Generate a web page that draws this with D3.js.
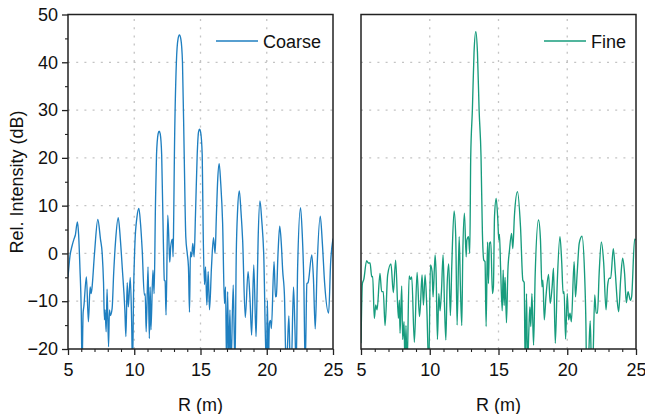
<!DOCTYPE html>
<html>
<head>
<meta charset="utf-8">
<script src="https://cdn.jsdelivr.net/npm/d3@7"></script>
<style>
  html, body { margin: 0; padding: 0; background: #fff; }
  svg { display: block; font-family: "Liberation Sans", Arial, sans-serif; }
</style>
</head>
<body>
<svg id="chart" width="645" height="414"></svg>
<script>
// ---------------- data ----------------
const xTicks = [5, 10, 15, 20, 25];
const yTicks = [-20, -10, 0, 10, 20, 30, 40, 50];
const seriesNames = ["Coarse", "Fine"];
const seriesColors = ["#1f7fc0", "#179c7d"];

// [R (m), relative intensity (dB)]
const coarseData = [
  [5.0,-5],[5.15,-0.5],[5.3,1.5],[5.45,3],[5.55,3.8],[5.71,6.6],[5.8,4],[5.9,-3],[6.0,-12],[6.06,-24],
  [6.14,-12.5],[6.2,-11],[6.39,-4.9],[6.54,-14.3],[6.67,-7],[6.74,-8.4],[6.8,-7.5],[7.0,0],[7.25,7.1],
  [7.45,3],[7.58,0],[7.68,-6],[7.75,-13.9],[7.8,-11.8],[7.88,-16.4],[7.95,-7.5],[8.06,-19.5],[8.13,-11.8],
  [8.2,-13],[8.33,-11.5],[8.45,-4],[8.6,3],[8.79,7.5],[8.95,3],[9.09,-2.8],[9.29,-11.8],[9.37,-17.4],
  [9.47,-6.1],[9.55,-11.2],[9.7,-5],[9.8,-13.9],[9.87,-24],[9.95,-8],[10.05,2],[10.2,7.5],[10.35,9.4],
  [10.48,6],[10.6,0.7],[10.76,-8.7],[10.83,-8.5],[10.9,-16.4],[11.04,-2.8],[11.14,-17.8],[11.2,-7],
  [11.26,-16],[11.41,-3.5],[11.5,-8.4],[11.6,10],[11.68,20.6],[11.8,25],[11.88,25.6],[11.96,25],
  [12.07,20.6],[12.2,2],[12.27,-5.6],[12.33,-5.8],[12.4,-12.9],[12.53,8],[12.63,1.4],[12.68,-1.8],
  [12.75,1.4],[12.88,3],[12.93,-0.7],[12.98,8],[13.03,20.6],[13.18,40],[13.3,44.8],[13.41,45.7],
  [13.52,44.8],[13.64,40],[13.77,20.6],[13.89,3.5],[14.0,0],[14.09,-2.8],[14.17,-12.3],[14.24,0.3],
  [14.33,-0.7],[14.42,2.1],[14.52,-0.7],[14.62,8],[14.75,20.6],[14.85,25.4],[14.93,26],[15.01,25.4],
  [15.13,20.6],[15.2,5],[15.3,-6.5],[15.38,-2.8],[15.48,-10.8],[15.58,-3.8],[15.68,-11.8],[15.83,-2.8],
  [15.98,3.3],[16.1,0],[16.2,8],[16.3,15.5],[16.41,18.8],[16.52,15],[16.67,6.3],[16.81,-10.5],[16.89,-7],
  [16.97,-24],[17.05,-8],[17.13,-24],[17.22,-11.8],[17.3,-24],[17.47,-6.6],[17.6,-24],[17.7,0],[17.8,9],
  [17.93,13.1],[18.05,9],[18.18,2.8],[18.38,-13.4],[18.59,-3.8],[18.74,-9.8],[18.86,-17.1],[19.02,-2.4],
  [19.19,-17.4],[19.25,-11],[19.35,3],[19.49,11],[19.62,7],[19.77,0],[19.97,-24],[20.05,-9.8],[20.12,-24],
  [20.2,-14.6],[20.28,-14],[20.35,-15.7],[20.55,-1.7],[20.66,-9.1],[20.72,-9],[20.85,0],[20.98,5.7],
  [21.1,2],[21.2,-3.5],[21.34,-9.1],[21.46,-24],[21.55,-20.5],[21.67,-13.1],[21.78,-24],[21.85,-24],
  [22.02,-7],[22.12,-15],[22.22,-24],[22.33,-3],[22.55,9.6],[22.68,4],[22.8,-6.3],[22.9,-24],[23.03,-6.3],
  [23.12,-6.1],[23.4,-0.3],[23.52,-5],[23.66,-15.8],[23.8,-3],[24.04,7.8],[24.2,2],[24.37,-6.3],
  [24.67,-12.5],[24.82,-2],[25.0,3.1]
];

const fineData = [
  [5.0,-18.8],[5.1,-6.3],[5.2,-5.5],[5.41,-1.5],[5.53,-2],[5.66,-2],[5.78,-4.9],[5.85,-4.8],[5.97,-13.6],
  [6.07,-10.8],[6.17,-11.8],[6.38,-4.2],[6.5,-8],[6.62,-8],[6.75,-15.1],[6.94,-4.5],[7.18,-2.2],[7.35,-8.2],
  [7.52,-1.4],[7.72,-13.6],[7.79,-9.8],[7.84,-16.7],[7.96,-6.8],[8.03,-18],[8.13,-14.3],[8.2,-24],
  [8.27,-15.1],[8.35,-24],[8.5,-4.7],[8.6,-5.4],[8.69,-4.9],[8.88,-18.6],[9.08,-4],[9.25,-13.2],[9.32,-11],
  [9.44,-4.5],[9.54,-10.8],[9.66,-4.5],[9.78,-10.8],[9.93,-24],[10.05,-2.4],[10.17,-3.8],[10.24,-9.1],
  [10.39,-0.3],[10.46,-4],[10.56,-18],[10.66,-8.4],[10.75,-12],[10.85,-8],[10.97,-0.3],[11.07,-10.5],
  [11.17,-18.1],[11.26,-7],[11.38,-2.2],[11.5,-13],[11.6,-2.8],[11.77,8.9],[11.89,3.5],[11.99,-15],
  [12.14,3.5],[12.23,-7],[12.33,-15.1],[12.4,-0.7],[12.52,8.4],[12.65,-0.7],[12.7,2.8],[12.82,3.5],
  [12.91,0],[12.98,20.2],[13.1,30],[13.22,42],[13.35,46.4],[13.47,42],[13.59,30],[13.73,20.2],[13.83,4.2],
  [13.93,-1.4],[14.02,-1.7],[14.1,-15.3],[14.2,2.4],[14.27,-6.3],[14.34,2.1],[14.44,2.4],[14.56,-8.4],
  [14.63,-7],[14.71,7.7],[14.83,11.5],[14.95,7],[15.02,2.8],[15.07,4],[15.15,-2.8],[15.27,-12],[15.34,-3.5],
  [15.41,-10.9],[15.48,-5],[15.58,-14.5],[15.68,-3.8],[15.8,0.7],[15.95,4.2],[16.04,1],[16.16,8],
  [16.38,12.9],[16.6,5.6],[16.77,-5.6],[16.87,-6.1],[16.94,-24],[17.04,-8.4],[17.11,-24],[17.2,-16.7],
  [17.28,-11.2],[17.35,-15.3],[17.43,-8.4],[17.55,-19.2],[17.67,-4.2],[17.91,7],[18.05,3],[18.16,-7],
  [18.23,-5.6],[18.33,-13.9],[18.45,-9.1],[18.64,-4.4],[18.76,-10.5],[18.9,-7],[19.0,-3.1],[19.13,-18.8],
  [19.27,-6.3],[19.47,3.5],[19.6,-2],[19.7,-8.4],[19.77,-8],[19.88,-17.9],[20.0,-8.4],[20.1,-13.9],
  [20.2,-12.5],[20.3,-14.3],[20.5,-1.7],[20.6,-9.1],[20.72,-4.2],[20.87,2.1],[21.07,3.6],[21.26,-4.2],
  [21.36,-15.3],[21.4,-24],[21.5,-24],[21.55,-22],[21.67,-14.1],[21.77,-24],[21.87,-22],[22.0,-8.7],
  [22.1,-12.5],[22.2,-12.5],[22.32,-4.2],[22.48,2.4],[22.65,-2],[22.82,-11.8],[22.94,-6.6],[23.06,-5.2],
  [23.16,-5.2],[23.35,1],[23.5,-4.2],[23.64,-10.1],[23.74,-12.2],[23.88,-5.6],[24.03,-1],[24.17,-4.2],
  [24.3,-10.3],[24.42,-8],[24.59,-9.8],[24.68,-9.1],[24.9,3],[25.0,2.8]
];

// ---------------- layout ----------------
const svg = d3.select("#chart");
const plotTop = 14.5, plotBottom = 349;
const panels = [
  { left: 68, right: 333, data: coarseData, name: seriesNames[0], color: seriesColors[0], yLabels: true },
  { left: 361, right: 636, data: fineData, name: seriesNames[1], color: seriesColors[1], yLabels: false }
];
const FONT = 18;

panels.forEach((p, i) => {
  const x = d3.scaleLinear().domain([5, 25]).range([p.left, p.right]);
  const y = d3.scaleLinear().domain([-20, 50]).range([plotBottom, plotTop]);
  const g = svg.append("g");

  const clipId = "clip" + i;
  svg.append("clipPath").attr("id", clipId).append("rect")
    .attr("x", p.left).attr("y", plotTop).attr("width", p.right - p.left).attr("height", plotBottom - plotTop);

  // grid
  const grid = g.append("g").attr("stroke", "#c4c4c4").attr("stroke-width", 1.3)
    .attr("stroke-dasharray", "2,6.2");
  grid.selectAll(".vg").data(xTicks.slice(1, -1)).join("line")
    .attr("x1", d => x(d)).attr("x2", d => x(d)).attr("y1", plotBottom).attr("y2", plotTop);
  grid.selectAll(".hg").data(yTicks.slice(1, -1)).join("line")
    .attr("y1", d => y(d)).attr("y2", d => y(d)).attr("x1", p.left).attr("x2", p.right);

  // line
  const line = d3.line().x(d => x(d[0])).y(d => y(d[1])).curve(d3.curveMonotoneX);
  g.append("path").datum(p.data)
    .attr("clip-path", `url(#${clipId})`)
    .attr("fill", "none").attr("stroke", p.color).attr("stroke-width", 1.35)
    .attr("stroke-linejoin", "round")
    .attr("d", line);

  // x axis
  const xAxis = d3.axisBottom(x).tickValues(xTicks).tickSize(6).tickPadding(8).tickFormat(d3.format("d"));
  const xa = g.append("g").attr("transform", `translate(0,${plotBottom})`).call(xAxis);
  xa.select(".domain").remove();
  xa.selectAll("line").attr("stroke", "#222").attr("stroke-width", 1.3);
  xa.selectAll("text").attr("font-size", FONT).attr("fill", "#111").attr("font-family", "Liberation Sans, Arial, sans-serif");
  const xMinor = d3.axisBottom(x).tickValues(d3.range(6, 25).filter(v => v % 5 !== 0)).tickSize(3).tickFormat("");
  const xm = g.append("g").attr("transform", `translate(0,${plotBottom})`).call(xMinor);
  xm.select(".domain").remove();
  xm.selectAll("line").attr("stroke", "#222").attr("stroke-width", 1.1);

  if (p.yLabels) {
    const yAxis = d3.axisLeft(y).tickValues(yTicks).tickSize(6).tickPadding(4).tickFormat(d3.format("d"));
    const ya = g.append("g").attr("transform", `translate(${p.left},0)`).call(yAxis);
    ya.select(".domain").remove();
    ya.selectAll("line").attr("stroke", "#222").attr("stroke-width", 1.3);
    ya.selectAll("text").attr("font-size", FONT).attr("fill", "#111").attr("font-family", "Liberation Sans, Arial, sans-serif");
    const yMinor = d3.axisLeft(y).tickValues(d3.range(-15, 50, 10)).tickSize(3).tickFormat("");
    const ym = g.append("g").attr("transform", `translate(${p.left},0)`).call(yMinor);
    ym.select(".domain").remove();
    ym.selectAll("line").attr("stroke", "#222").attr("stroke-width", 1.1);
  }

  // frame
  g.append("rect").attr("x", p.left).attr("y", plotTop).attr("width", p.right - p.left).attr("height", plotBottom - plotTop)
    .attr("fill", "none").attr("stroke", "#222").attr("stroke-width", 1.5);

  // legend
  const textW = i === 0 ? 60 : 35;
  const tx = p.right - 10 - textW;
  g.append("line").attr("x1", tx - 47).attr("x2", tx - 5).attr("y1", 41).attr("y2", 41)
    .attr("stroke", p.color).attr("stroke-width", 1.35);
  g.append("text").attr("x", tx).attr("y", 47.5).attr("font-size", FONT).attr("fill", "#111").text(p.name);

  // x title
  g.append("text").attr("x", (p.left + p.right) / 2).attr("y", 411).attr("text-anchor", "middle")
    .attr("font-size", FONT).attr("fill", "#111").text("R (m)");
});

// y title
svg.append("text").attr("transform", "translate(23,182) rotate(-90)").attr("text-anchor", "middle")
  .attr("font-size", FONT).attr("fill", "#111").text("Rel. Intensity (dB)");
</script>
</body>
</html>
